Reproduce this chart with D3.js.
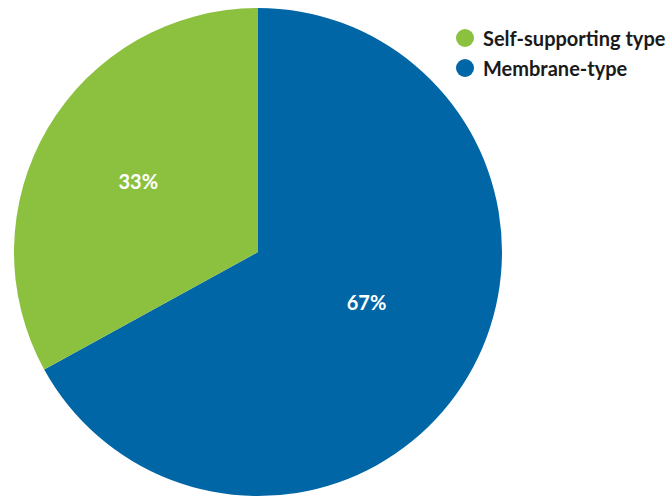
<!DOCTYPE html>
<html>
<head>
<meta charset="utf-8">
<script src="https://cdn.jsdelivr.net/npm/d3@7"></script>
<style>
  html, body { margin: 0; padding: 0; background: #fff; }
  svg { display: block; }
</style>
</head>
<body>
<svg id="chart" width="670" height="497"></svg>
<script>
// Share of each structure type
const categories = ["Membrane-type", "Self-supporting type"];
const shares = [67, 33];
const colors = ["#0066a6", "#8cc13f"];
const legendOrder = ["Self-supporting type", "Membrane-type"];

const svg = d3.select("#chart");
const cx = 258, cy = 252, radius = 244;

const color = d3.scaleOrdinal().domain(categories).range(colors);

const pie = d3.pie().sort(null).value(d => d.value);
const data = categories.map((c, i) => ({ name: c, value: shares[i] }));
const arcs = pie(data);

const arc = d3.arc().innerRadius(0).outerRadius(radius);

// label placement: fraction of radius and angular nudge (radians) per slice
const labelRadius = [0.49, 0.57];
const labelNudge = [-0.1, 0];
function labelPos(d, i) {
  const a = (d.startAngle + d.endAngle) / 2 + labelNudge[i];
  const r = radius * labelRadius[i];
  return [r * Math.sin(a), -r * Math.cos(a)];
}

const g = svg.append("g").attr("transform", `translate(${cx},${cy})`);

g.selectAll("path")
  .data(arcs)
  .join("path")
  .attr("d", arc)
  .attr("fill", d => color(d.data.name));

g.selectAll("text")
  .data(arcs)
  .join("text")
  .attr("transform", (d, i) => `translate(${labelPos(d, i)})`)
  .attr("text-anchor", "middle")
  .attr("dominant-baseline", "central")
  .attr("fill", "#fff")
  .attr("font-family", "Lato, sans-serif")
  .attr("font-weight", "bold")
  .attr("font-size", 20)
  .text(d => d.data.value + "%");

// Legend
const legend = svg.append("g").attr("transform", "translate(465,38)");
const items = legend.selectAll("g")
  .data(legendOrder)
  .join("g")
  .attr("transform", (d, i) => `translate(0,${i * 30})`);
items.append("circle").attr("r", 9).attr("fill", d => color(d));
items.append("text")
  .attr("x", 18)
  .attr("dominant-baseline", "central")
  .attr("font-family", "Lato, sans-serif")
  .attr("font-weight", "bold")
  .attr("font-size", 20)
  .attr("fill", "#1a1a1a")
  .text(d => d);
</script>
</body>
</html>
